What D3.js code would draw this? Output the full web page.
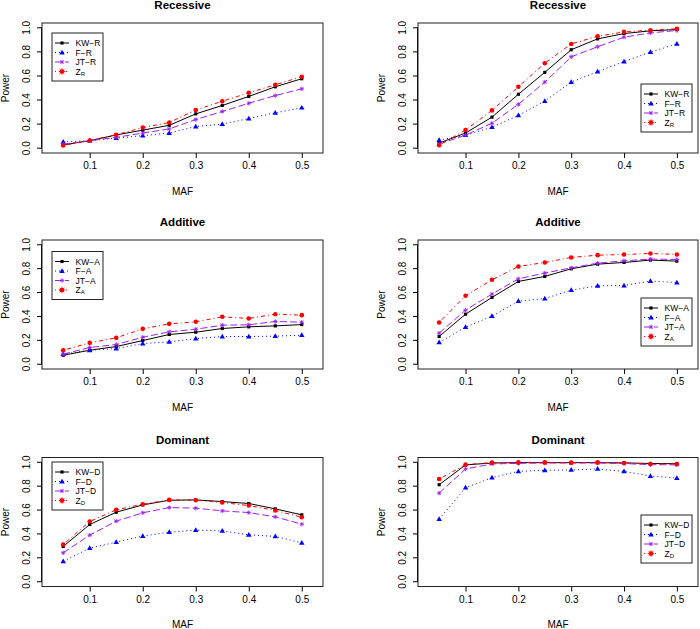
<!DOCTYPE html>
<html>
<head>
<meta charset="utf-8">
<script src="https://cdn.jsdelivr.net/npm/d3@7"></script>
<style>
  body { margin: 0; background: #fff; }
  text { font-family: "Liberation Sans", Arial, sans-serif; fill: #000; }
</style>
</head>
<body>
<script>
var maf = [0.05, 0.1, 0.15, 0.2, 0.25, 0.3, 0.35, 0.4, 0.45, 0.5];
var xTicks = [0.1, 0.2, 0.3, 0.4, 0.5];
var yTicks = [0, 0.2, 0.4, 0.6, 0.8, 1.0];

// recessive, left / right
var kwRec1 = [0.028, 0.062, 0.11, 0.15, 0.19, 0.285, 0.355, 0.43, 0.51, 0.577];
var fRec1  = [0.053, 0.062, 0.084, 0.104, 0.126, 0.18, 0.2, 0.246, 0.294, 0.336];
var jtRec1 = [0.034, 0.062, 0.09, 0.126, 0.16, 0.238, 0.305, 0.373, 0.437, 0.493];
var zRec1  = [0.022, 0.064, 0.112, 0.171, 0.213, 0.317, 0.39, 0.46, 0.527, 0.594];
var kwRec2 = [0.042, 0.126, 0.258, 0.448, 0.63, 0.818, 0.908, 0.952, 0.975, 0.986];
var fRec2  = [0.067, 0.109, 0.174, 0.272, 0.392, 0.549, 0.636, 0.72, 0.798, 0.866];
var jtRec2 = [0.034, 0.109, 0.207, 0.364, 0.549, 0.759, 0.843, 0.922, 0.958, 0.978];
var zRec2  = [0.025, 0.151, 0.314, 0.51, 0.706, 0.866, 0.93, 0.966, 0.98, 0.992];

// additive
var kwAdd1 = [0.075, 0.117, 0.148, 0.198, 0.249, 0.268, 0.299, 0.313, 0.321, 0.332];
var fAdd1  = [0.084, 0.117, 0.131, 0.173, 0.187, 0.215, 0.232, 0.232, 0.235, 0.243];
var jtAdd1 = [0.084, 0.14, 0.165, 0.226, 0.271, 0.293, 0.327, 0.33, 0.358, 0.352];
var zAdd1  = [0.117, 0.179, 0.221, 0.296, 0.338, 0.355, 0.397, 0.383, 0.419, 0.411];
var kwAdd2 = [0.232, 0.419, 0.559, 0.693, 0.735, 0.799, 0.838, 0.852, 0.872, 0.863];
var fAdd2  = [0.182, 0.31, 0.402, 0.528, 0.55, 0.62, 0.656, 0.659, 0.696, 0.684];
var jtAdd2 = [0.26, 0.453, 0.587, 0.715, 0.763, 0.807, 0.846, 0.866, 0.88, 0.877];
var zAdd2  = [0.349, 0.573, 0.707, 0.818, 0.852, 0.894, 0.913, 0.919, 0.927, 0.919];

// dominant
var kwDom1 = [0.295, 0.479, 0.582, 0.643, 0.682, 0.685, 0.671, 0.655, 0.61, 0.56];
var fDom1  = [0.17, 0.281, 0.331, 0.382, 0.415, 0.432, 0.426, 0.393, 0.379, 0.326];
var jtDom1 = [0.242, 0.39, 0.507, 0.577, 0.621, 0.616, 0.593, 0.579, 0.543, 0.482];
var zDom1  = [0.312, 0.504, 0.602, 0.649, 0.685, 0.682, 0.663, 0.638, 0.596, 0.54];
var kwDom2 = [0.812, 0.978, 0.994, 0.997, 0.997, 0.997, 0.997, 0.995, 0.99, 0.988];
var fDom2  = [0.524, 0.787, 0.871, 0.924, 0.933, 0.936, 0.944, 0.924, 0.885, 0.868];
var jtDom2 = [0.742, 0.944, 0.986, 0.991, 0.994, 0.994, 0.994, 0.989, 0.98, 0.978];
var zDom2  = [0.86, 0.98, 0.997, 0.999, 0.999, 0.997, 0.999, 0.994, 0.986, 0.986];

var methods = ['KW', 'F', 'JT', 'Z'];
var colors = ['#000000', '#0000ff', '#a020f0', '#ff0000'];
var dashes = [null, '1,3', '7,3', '1,3,4,3'];

var panels = [
  { title: 'Recessive', s: 'R', row: 0, col: 0, leg: 'tl', inset: [10, 10], data: [kwRec1, fRec1, jtRec1, zRec1] },
  { title: 'Recessive', s: 'R', row: 0, col: 1, leg: 'br', inset: [6, 21], data: [kwRec2, fRec2, jtRec2, zRec2] },
  { title: 'Additive', s: 'A', row: 1, col: 0, leg: 'tl', inset: [10, 11.5], data: [kwAdd1, fAdd1, jtAdd1, zAdd1] },
  { title: 'Additive', s: 'A', row: 1, col: 1, leg: 'br', inset: [6, 23], data: [kwAdd2, fAdd2, jtAdd2, zAdd2] },
  { title: 'Dominant', s: 'D', row: 2, col: 0, leg: 'tl', inset: [10, 4.5], data: [kwDom1, fDom1, jtDom1, zDom1] },
  { title: 'Dominant', s: 'D', row: 2, col: 1, leg: 'br', inset: [6, 23.5], data: [kwDom2, fDom2, jtDom2, zDom2] }
];

var colX = [[42, 323], [418, 698]];
var rowY = [[23, 153], [240, 369], [457.5, 586.5]];

var svg = d3.select('body').append('svg').attr('width', 700).attr('height', 629);

// pch 8 style asterisk
var starPath = function(r) {
  var d = r * 0.7071;
  return 'M' + (-r) + ',0L' + r + ',0M0,' + (-r) + 'L0,' + r +
    'M' + (-d) + ',' + (-d) + 'L' + d + ',' + d + 'M' + (-d) + ',' + d + 'L' + d + ',' + (-d);
};

var drawMarker = function(g, k, x, y, legend) {
  var c = colors[k];
  if (k === 0) {
    g.append('path').attr('d', d3.symbol(d3.symbolSquare, 10)()).attr('transform', 'translate(' + x + ',' + y + ')').attr('fill', c);
  } else if (k === 1) {
    g.append('path').attr('d', d3.symbol(d3.symbolTriangle, 13)()).attr('transform', 'translate(' + x + ',' + (y + 0.3) + ')').attr('fill', c);
  } else if (k === 2) {
    g.append('path').attr('d', starPath(2.2)).attr('transform', 'translate(' + x + ',' + y + ')').attr('stroke', c).attr('stroke-width', 0.9).attr('fill', 'none');
  } else {
    g.append('circle').attr('cx', x).attr('cy', y).attr('r', 2.3).attr('fill', c);
    if (legend) {
      g.append('path').attr('d', starPath(3.2)).attr('transform', 'translate(' + x + ',' + y + ')').attr('stroke', c).attr('stroke-width', 0.8).attr('fill', 'none');
    }
  }
};

panels.forEach(function(p) {
  var x0 = colX[p.col][0], x1 = colX[p.col][1];
  var y0 = rowY[p.row][0], y1 = rowY[p.row][1];
  var x = d3.scaleLinear().domain([0.01, 0.54]).range([x0, x1]);
  var y = d3.scaleLinear().domain([-0.04, 1.04]).range([y1, y0]);
  var g = svg.append('g');

  // axes
  var xa = g.append('g').attr('transform', 'translate(0,' + y1 + ')')
    .call(d3.axisBottom(x).tickValues(xTicks).tickSize(5).tickPadding(4).tickFormat(d3.format('.1f')));
  xa.select('.domain').remove();
  xa.selectAll('line').attr('stroke', '#000');
  xa.selectAll('text').attr('font-size', 10).attr('font-family', 'Liberation Sans, Arial, sans-serif');

  var ya = g.append('g').attr('transform', 'translate(' + x0 + ',0)')
    .call(d3.axisLeft(y).tickValues(yTicks).tickSize(5).tickFormat(d3.format('.1f')));
  ya.select('.domain').attr('d', 'M-0.5,' + y(0) + 'V' + y(1));
  ya.selectAll('text').attr('font-size', 10).attr('font-family', 'Liberation Sans, Arial, sans-serif')
    .attr('text-anchor', 'middle').attr('dy', null).attr('x', null)
    .attr('transform', function(d) { return 'translate(-16,' + y(d) + ') rotate(-90)'; })
    .attr('y', 0).attr('dominant-baseline', 'central');
  ya.selectAll('.tick').attr('transform', null);
  ya.selectAll('.tick line').attr('transform', function(d) { return 'translate(0,' + y(d) + ')'; });

  // box
  g.append('rect').attr('x', x0).attr('y', y0).attr('width', x1 - x0).attr('height', y1 - y0)
    .attr('fill', 'none').attr('stroke', '#222').attr('stroke-width', 1);

  // labels
  g.append('text').attr('x', (x0 + x1) / 2).attr('y', y0 - 18).attr('text-anchor', 'middle')
    .attr('dominant-baseline', 'central').attr('font-weight', 'bold').attr('font-size', 11.5).text(p.title);
  g.append('text').attr('x', (x0 + x1) / 2).attr('y', y1 + 38).attr('text-anchor', 'middle')
    .attr('dominant-baseline', 'central').attr('font-size', 10).text('MAF');
  g.append('text').attr('transform', 'translate(' + (x0 - 37) + ',' + ((y0 + y1) / 2) + ') rotate(-90)')
    .attr('text-anchor', 'middle').attr('dominant-baseline', 'central').attr('font-size', 10).text('Power');

  // series
  p.data.forEach(function(vals, k) {
    var line = d3.line().x(function(d, i) { return x(maf[i]); }).y(function(d) { return y(d); });
    g.append('path').datum(vals).attr('d', line).attr('fill', 'none')
      .attr('stroke', colors[k]).attr('stroke-width', 1).attr('stroke-dasharray', dashes[k]);
    vals.forEach(function(v, i) { drawMarker(g, k, x(maf[i]), y(v), false); });
  });

  // legend
  var lw = 51, lh = 48;
  var lx = p.leg === 'tl' ? x0 + p.inset[0] : x1 - p.inset[0] - lw;
  var ly = p.leg === 'tl' ? y0 + p.inset[1] : y1 - p.inset[1] - lh;
  var lg = g.append('g').attr('transform', 'translate(' + lx + ',' + ly + ')');
  lg.append('rect').attr('width', lw).attr('height', lh).attr('fill', '#fff').attr('stroke', '#222').attr('stroke-width', 1);
  methods.forEach(function(m, k) {
    var ry = 10 + k * 9.5;
    lg.append('line').attr('x1', 3).attr('x2', 17).attr('y1', ry).attr('y2', ry)
      .attr('stroke', colors[k]).attr('stroke-width', 1).attr('stroke-dasharray', dashes[k]);
    drawMarker(lg, k, 10, ry, true);
    var t = lg.append('text').attr('x', 23.5).attr('y', ry).attr('dominant-baseline', 'central').attr('font-size', 8.5);
    if (k < 3) {
      t.text(m + '\u2212' + p.s);
    } else {
      t.append('tspan').text('Z');
      t.append('tspan').attr('font-size', 6).attr('dy', 2).text(p.s);
    }
  });
});
</script>
</body>
</html>
